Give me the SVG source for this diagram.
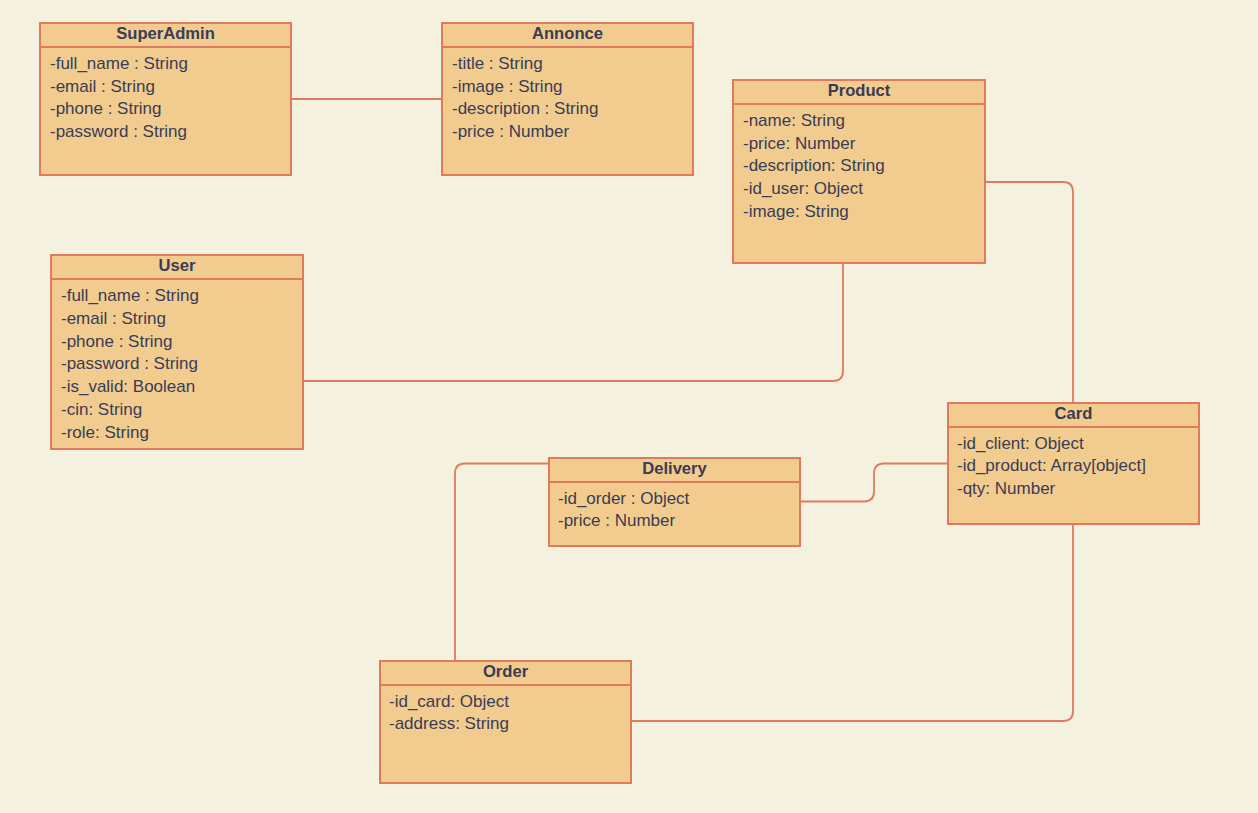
<svg xmlns="http://www.w3.org/2000/svg" width="1258" height="813" viewBox="0 0 1258 813">
<style>
.box{fill:#F2CC8F;stroke:#E07A5F;stroke-width:2}
.div{stroke:#E07A5F;stroke-width:2}
.title{font-family:"Liberation Sans",Arial,sans-serif;font-size:16.6px;font-weight:bold;fill:#393C56;text-anchor:middle}
.attr{font-family:"Liberation Sans",Arial,sans-serif;font-size:17px;fill:#393C56}
.edge{fill:none;stroke:#E07A5F;stroke-width:1.8}
</style>
<rect x="0" y="0" width="1258" height="813" fill="#F4F1DE"/>
<g id="connectors">
<path class="edge" d="M291,99 H442"/>
<path class="edge" d="M303,381 H833 Q843,381 843,371 V263"/>
<path class="edge" d="M985,182 H1063 Q1073,182 1073,192 V403"/>
<path class="edge" d="M800,501.5 H864 Q874,501.5 874,491.5 V473.5 Q874,463.5 884,463.5 H948"/>
<path class="edge" d="M549,463.5 H465 Q455,463.5 455,473.5 V661"/>
<path class="edge" d="M1073,524 V711 Q1073,721 1063,721 H631"/>
</g>
<g id="SuperAdmin">
<rect class="box" x="40" y="23" width="251" height="152"/>
<line class="div" x1="40" y1="47" x2="291" y2="47"/>
<text class="title" x="165.5" y="39">SuperAdmin</text>
<text class="attr" x="50" y="69">-full_name : String</text>
<text class="attr" x="50" y="91.7">-email : String</text>
<text class="attr" x="50" y="114.4">-phone : String</text>
<text class="attr" x="50" y="137.1">-password : String</text>
</g>
<g id="Annonce">
<rect class="box" x="442" y="23" width="251" height="152"/>
<line class="div" x1="442" y1="47" x2="693" y2="47"/>
<text class="title" x="567.5" y="39">Annonce</text>
<text class="attr" x="452" y="69">-title : String</text>
<text class="attr" x="452" y="91.7">-image : String</text>
<text class="attr" x="452" y="114.4">-description : String</text>
<text class="attr" x="452" y="137.1">-price : Number</text>
</g>
<g id="Product">
<rect class="box" x="733" y="80" width="252" height="183"/>
<line class="div" x1="733" y1="104" x2="985" y2="104"/>
<text class="title" x="859" y="96">Product</text>
<text class="attr" x="743" y="126">-name: String</text>
<text class="attr" x="743" y="148.7">-price: Number</text>
<text class="attr" x="743" y="171.4">-description: String</text>
<text class="attr" x="743" y="194.1">-id_user: Object</text>
<text class="attr" x="743" y="216.8">-image: String</text>
</g>
<g id="User">
<rect class="box" x="51" y="255" width="252" height="194"/>
<line class="div" x1="51" y1="279" x2="303" y2="279"/>
<text class="title" x="177" y="271">User</text>
<text class="attr" x="61" y="301">-full_name : String</text>
<text class="attr" x="61" y="323.8">-email : String</text>
<text class="attr" x="61" y="346.6">-phone : String</text>
<text class="attr" x="61" y="369.4">-password : String</text>
<text class="attr" x="61" y="392.2">-is_valid: Boolean</text>
<text class="attr" x="61" y="415">-cin: String</text>
<text class="attr" x="61" y="437.8">-role: String</text>
</g>
<g id="Card">
<rect class="box" x="948" y="403" width="251" height="121"/>
<line class="div" x1="948" y1="427" x2="1199" y2="427"/>
<text class="title" x="1073.5" y="419">Card</text>
<text class="attr" x="957" y="448.5">-id_client: Object</text>
<text class="attr" x="957" y="471.2">-id_product: Array[object]</text>
<text class="attr" x="957" y="493.9">-qty: Number</text>
</g>
<g id="Delivery">
<rect class="box" x="549" y="458" width="251" height="88"/>
<line class="div" x1="549" y1="482" x2="800" y2="482"/>
<text class="title" x="674.5" y="474">Delivery</text>
<text class="attr" x="558" y="503.5">-id_order : Object</text>
<text class="attr" x="558" y="526.2">-price : Number</text>
</g>
<g id="Order">
<rect class="box" x="380" y="661" width="251" height="122"/>
<line class="div" x1="380" y1="685" x2="631" y2="685"/>
<text class="title" x="505.5" y="677">Order</text>
<text class="attr" x="389" y="706.5">-id_card: Object</text>
<text class="attr" x="389" y="729.2">-address: String</text>
</g>
</svg>
